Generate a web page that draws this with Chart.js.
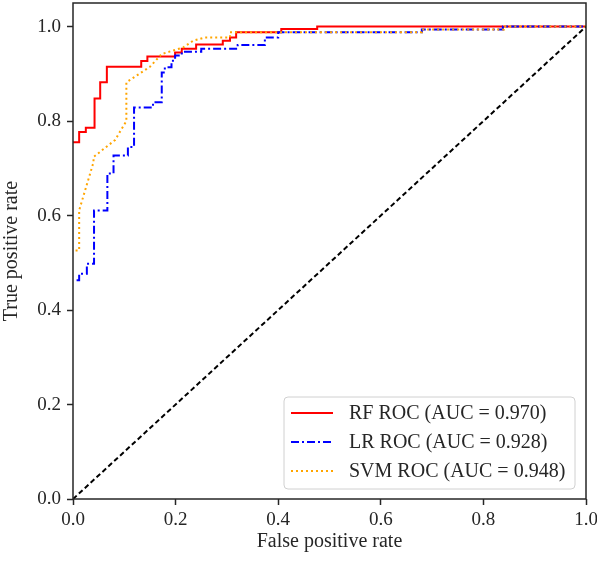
<!DOCTYPE html>
<html>
<head>
<meta charset="utf-8">
<script src="https://cdn.jsdelivr.net/npm/chart.js@4.4.1/dist/chart.umd.min.js"></script>
<style>
  html, body { margin: 0; padding: 0; background: #fff; }
  #wrap { width: 597px; height: 564px; }
</style>
</head>
<body>
<div id="wrap"><canvas id="roc"></canvas></div>
<script>
// ROC points
var rfFpr = [0, 0.012, 0.012, 0.025, 0.025, 0.042, 0.042, 0.053, 0.053, 0.066, 0.066, 0.133, 0.133, 0.145, 0.145, 0.199, 0.199, 0.212, 0.212, 0.24, 0.24, 0.292, 0.292, 0.306, 0.306, 0.318, 0.318, 0.406, 0.406, 0.476, 0.476, 1];
var rfTpr = [0.755, 0.755, 0.777, 0.777, 0.786, 0.786, 0.848, 0.848, 0.882, 0.882, 0.915, 0.915, 0.927, 0.927, 0.937, 0.937, 0.945, 0.945, 0.953, 0.953, 0.962, 0.962, 0.97, 0.97, 0.977, 0.977, 0.988, 0.988, 0.995, 0.995, 1, 1];

var lrFpr = [0.007, 0.012, 0.012, 0.027, 0.027, 0.041, 0.041, 0.067, 0.067, 0.079, 0.079, 0.107, 0.107, 0.119, 0.119, 0.156, 0.156, 0.173, 0.173, 0.179, 0.179, 0.192, 0.192, 0.199, 0.199, 0.212, 0.212, 0.25, 0.25, 0.321, 0.321, 0.374, 0.374, 0.4, 0.4, 0.68, 0.68, 0.838, 0.838, 1];
var lrTpr = [0.463, 0.463, 0.477, 0.477, 0.498, 0.498, 0.611, 0.611, 0.689, 0.689, 0.727, 0.727, 0.745, 0.745, 0.829, 0.829, 0.84, 0.84, 0.903, 0.903, 0.914, 0.914, 0.928, 0.928, 0.939, 0.939, 0.947, 0.947, 0.953, 0.953, 0.961, 0.961, 0.977, 0.977, 0.988, 0.988, 0.994, 0.994, 1, 1];

var svmFpr = [0.005, 0.012, 0.012, 0.04, 0.04, 0.082, 0.104, 0.104, 0.15, 0.173, 0.215, 0.234, 0.257, 0.306, 0.306, 0.68, 0.68, 0.84, 0.84, 1];
var svmTpr = [0.526, 0.526, 0.611, 0.713, 0.724, 0.76, 0.8, 0.882, 0.915, 0.942, 0.956, 0.97, 0.977, 0.977, 0.988, 0.988, 0.994, 0.994, 1, 1];

var chanceFpr = [0, 1];
var chanceTpr = [0, 1];

var legendLabels = ['RF ROC (AUC = 0.970)', 'LR ROC (AUC = 0.928)', 'SVM ROC (AUC = 0.948)'];
var axisTicks = [0, 0.2, 0.4, 0.6, 0.8, 1.0];

function pts(xs, ys) {
    var out = [];
    for (var i = 0; i < xs.length; i++) out.push({x: xs[i], y: ys[i]});
    return out;
}

var serif = '"Liberation Serif", "Times New Roman", serif';
var ink = '#262626';

// frame round the plot + legend box in the lower right corner
var rocExtras = {
    id: 'rocExtras',
    afterDraw: function(chart) {
        var ctx = chart.ctx;
        var a = chart.chartArea;
        ctx.save();
        ctx.strokeStyle = ink;
        ctx.lineWidth = 1.5;
        ctx.strokeRect(a.left, a.top, a.right - a.left, a.bottom - a.top);

        var x0 = a.right - 302, y0 = a.bottom - 102, w = 291, h = 92;
        ctx.beginPath();
        ctx.roundRect(x0, y0, w, h, 4);
        ctx.fillStyle = 'rgba(255,255,255,0.8)';
        ctx.fill();
        ctx.strokeStyle = '#d0d0d0';
        ctx.lineWidth = 1;
        ctx.stroke();

        // datasets 3,2,1 are RF, LR, SVM
        var order = [3, 2, 1];
        ctx.font = '20px ' + serif;
        ctx.textBaseline = 'middle';
        for (var i = 0; i < order.length; i++) {
            var ds = chart.data.datasets[order[i]];
            var y = y0 + 16 + i * 29;
            ctx.beginPath();
            ctx.setLineDash(ds.borderDash || []);
            ctx.strokeStyle = ds.borderColor;
            ctx.lineWidth = ds.borderWidth;
            ctx.moveTo(x0 + 7, y);
            ctx.lineTo(x0 + 49, y);
            ctx.stroke();
            ctx.setLineDash([]);
            ctx.fillStyle = ink;
            ctx.fillText(legendLabels[i], x0 + 65, y + 1);
        }
        ctx.restore();
    }
};

function noPad(s) {
    s.paddingTop = 0; s.paddingBottom = 0; s.paddingLeft = 0; s.paddingRight = 0;
}

var ctx = document.getElementById('roc');
var rocChart = new Chart(ctx, {
    type: 'line',
    data: {
        datasets: [
            {data: pts(chanceFpr, chanceTpr), borderColor: '#000', borderWidth: 2, borderDash: [5, 3]},
            {data: pts(svmFpr, svmTpr), borderColor: '#FFA500', borderWidth: 2, borderDash: [2, 3]},
            {data: pts(lrFpr, lrTpr), borderColor: '#0000FF', borderWidth: 2, borderDash: [8, 3, 2, 3]},
            {data: pts(rfFpr, rfTpr), borderColor: '#FF0000', borderWidth: 2}
        ]
    },
    options: {
        responsive: true,
        maintainAspectRatio: false,
        animation: false,
        elements: {point: {radius: 0}, line: {tension: 0, fill: false}},
        layout: {padding: {top: 3, right: 11, left: 0, bottom: 0}},
        plugins: {legend: {display: false}, tooltip: {enabled: false}},
        scales: {
            x: {
                type: 'linear', min: 0, max: 1,
                afterBuildTicks: function(s) { s.ticks = axisTicks.map(function(v) { return {value: v}; }); },
                afterFit: function(s) { s.height = 65; noPad(s); },
                grid: {drawOnChartArea: false, drawTicks: true, tickLength: 6, tickWidth: 1.5, tickColor: ink},
                border: {display: false},
                ticks: {padding: 4, color: ink, font: {family: serif, size: 19}, maxRotation: 0,
                        callback: function(v) { return Number(v).toFixed(1); }},
                title: {display: true, text: 'False positive rate', color: ink, padding: {top: 0, bottom: 10},
                        font: {family: serif, size: 20}}
            },
            y: {
                type: 'linear', min: 0, max: 1.05,
                afterBuildTicks: function(s) { s.ticks = axisTicks.map(function(v) { return {value: v}; }); },
                afterFit: function(s) { s.width = 73; noPad(s); },
                grid: {drawOnChartArea: false, drawTicks: true, tickLength: 6, tickWidth: 1.5, tickColor: ink},
                border: {display: false},
                ticks: {padding: 6, color: ink, font: {family: serif, size: 19},
                        callback: function(v) { return Number(v).toFixed(1); }},
                title: {display: true, text: 'True positive rate', color: ink, padding: {top: 0, bottom: 2},
                        font: {family: serif, size: 20}}
            }
        }
    },
    plugins: [rocExtras]
});
</script>
</body>
</html>
